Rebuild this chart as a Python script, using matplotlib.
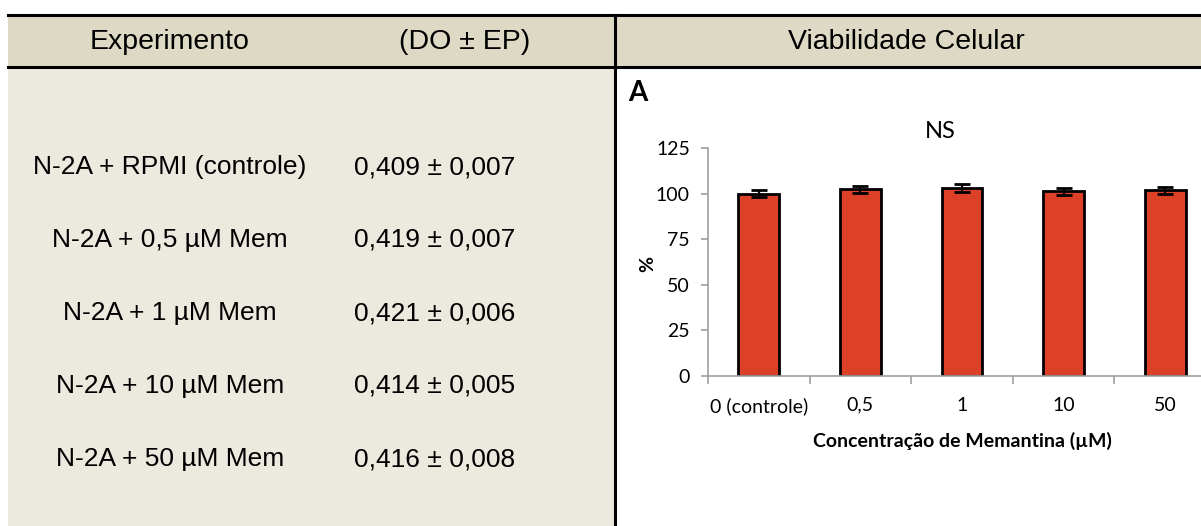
import matplotlib.pyplot as plt
from matplotlib.patches import Rectangle
import numpy as np

# tabela (DO +- EP)
experimentos = ["N-2A + RPMI (controle)", "N-2A + 0,5 µM Mem", "N-2A + 1 µM Mem",
                "N-2A + 10 µM Mem", "N-2A + 50 µM Mem"]
do_medias = [0.409, 0.419, 0.421, 0.414, 0.416]
do_ep = [0.007, 0.007, 0.006, 0.005, 0.008]

# grafico de viabilidade
concentracoes = ["0 (controle)", "0,5", "1", "10", "50"]
viabilidade = [100, 102.4, 102.9, 101.2, 101.7]
viab_erro = [2.0, 2.0, 2.2, 1.8, 2.0]

W, H = 1201, 526
fig = plt.figure(figsize=(W / 100, H / 100), dpi=100)

# fundo em coordenadas de pixel
bg = fig.add_axes([0, 0, 1, 1])
bg.set_xlim(0, W)
bg.set_ylim(H, 0)
bg.axis('off')

bg.add_patch(Rectangle((8, 15), W - 8, 52, facecolor='#DDD9C4', edgecolor='none'))
bg.add_patch(Rectangle((8, 67), 615 - 8, H - 67, facecolor='#ECE9DE', edgecolor='none'))
bg.plot([8, W], [15, 15], color='black', lw=2.2)
bg.plot([8, W], [67, 67], color='black', lw=2.2)
bg.plot([615, 615], [15, H], color='black', lw=2.2)

tfont = dict(family='Liberation Sans', color='black')
bg.text(170, 42, "Experimento", ha='center', va='center', fontsize=20.5, **tfont)
bg.text(465, 42, "(DO ± EP)", ha='center', va='center', fontsize=20.5, **tfont)
bg.text(906, 42, "Viabilidade Celular", ha='center', va='center', fontsize=20.5, **tfont)

linhas_y = [167, 240, 313, 386, 459]
for nome, m, e, yy in zip(experimentos, do_medias, do_ep, linhas_y):
    bg.text(170, yy, nome, ha='center', va='center', fontsize=19, **tfont)
    txt = f"{m:.3f} ± {e:.3f}".replace(".", ",")
    bg.text(435, yy, txt, ha='center', va='center', fontsize=19, **tfont)

cfont = 'Lato'
bg.text(628, 93, "A", ha='left', va='center', fontsize=20, fontweight='bold', family=cfont)
bg.text(940, 131, "NS", ha='center', va='center', fontsize=17, family=cfont)
bg.text(648, 264, "%", ha='center', va='center', fontsize=14, fontweight='bold',
        rotation=90, family=cfont)

# eixos do grafico de barras
x0, x1 = 708, 708 + 5 * 101.6
y0, y1 = 376, 148
ax = fig.add_axes([x0 / W, 1 - y0 / H, (x1 - x0) / W, (y0 - y1) / H])
ax.patch.set_alpha(0)

x = np.arange(len(concentracoes))
ax.bar(x, viabilidade, width=0.4, color='#DC4128', edgecolor='black', linewidth=2, zorder=2)
ax.errorbar(x, viabilidade, yerr=viab_erro, fmt='none', ecolor='black',
            elinewidth=1.6, capsize=5.5, capthick=2, zorder=3)

ax.set_xlim(-0.5, len(concentracoes) - 0.5)
ax.set_ylim(0, 125)
ax.set_yticks([0, 25, 50, 75, 100, 125])
ax.set_xticks(x)
ax.set_xticklabels(concentracoes)
ax.set_xticks(np.arange(-0.5, len(concentracoes)), minor=True)
ax.set_xlabel("Concentração de Memantina (µM)", fontsize=14, fontweight='bold',
              family=cfont, labelpad=12)

for s in ['top', 'right']:
    ax.spines[s].set_visible(False)
for s in ['left', 'bottom']:
    ax.spines[s].set_color('#A0A0A0')
    ax.spines[s].set_linewidth(1.2)

ax.tick_params(axis='x', which='major', length=0, pad=15, labelsize=14)
ax.tick_params(axis='x', which='minor', length=6, width=1.2, color='#A0A0A0')
ax.tick_params(axis='y', length=5, width=1.2, color='#A0A0A0', labelsize=14, pad=8)
for lab in ax.get_xticklabels() + ax.get_yticklabels():
    lab.set_family(cfont)

fig.savefig('out.png', dpi=100)
